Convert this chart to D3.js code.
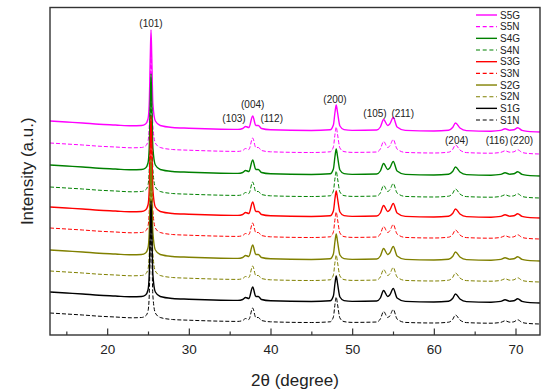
<!DOCTYPE html>
<html>
<head>
<meta charset="utf-8">
<script src="https://cdn.jsdelivr.net/npm/d3@7"></script>
<style>
body { margin: 0; background: #fff; }
text { font-family: Arial, "Liberation Sans", sans-serif; }
</style>
</head>
<body>
<div class="container"></div>
<script>
const WIDTH = 550;
const HEIGHT = 392;
const margin = {top: 7.5, right: 10, bottom: 57, left: 50};

// samples, drawn top trace first so the lower ones sit on top
var samples = ["S5G", "S5N", "S4G", "S4N", "S3G", "S3N", "S2G", "S2N", "S1G", "S1N"];
var colors = ["#ff00ff", "#ff00ff", "#008000", "#008000", "#ff0000", "#ff0000", "#808000", "#808000", "#000000", "#000000"];
var dashed = [false, true, false, true, false, true, false, true, false, true];
// vertical stacking offset of each pattern (a.u.)
var offsets = [203, 181, 159, 137, 117, 96, 74, 53, 32, 11];

// pattern (2θ, intensity a.u. above the high-angle baseline)
var twoTheta = [13, 15, 17, 19, 21, 23, 24.2, 24.7, 25.0, 25.15, 25.28, 25.37, 25.46, 25.6, 25.9, 26.5,
                28, 30, 33, 36, 36.6, 36.95, 37.35, 37.82, 38.2, 38.5, 38.9, 40, 45, 47.3, 47.7, 47.9,
                48.05, 48.2, 48.5, 49, 50, 53, 53.45, 53.85, 54.35, 54.6, 55.03, 55.5, 56.5, 60, 61.8, 62.3,
                62.65, 63.2, 64, 67, 68.2, 68.72, 69.3, 69.8, 70.27, 70.8, 71.5, 73];
var intensity = [11, 10, 9, 7.8, 7, 6.2, 6.5, 8, 13, 28, 75, 102, 75, 28, 11, 6.5,
                 4.5, 3.8, 3, 2.6, 3.5, 5.5, 4.5, 16, 6.5, 6.5, 3.5, 2.2, 1.5, 2.2, 7, 20,
                 27, 20, 6, 2.4, 1.6, 2, 5, 12.5, 6.5, 8, 14.5, 5, 1.6, 1, 1.8, 4.5,
                 9, 4, 1.4, 0.8, 1.6, 3.2, 1.8, 2.2, 4.2, 1.6, 0.6, 0];

var xTicks = [20, 30, 40, 50, 60, 70];
var xMinorTicks = [15, 25, 35, 45, 55, 65];

// reflection labels (hkl) and where they sit on the S5G pattern
var hklLabels = ["(101)", "(103)", "(004)", "(112)", "(200)", "(105)", "(211)", "(204)", "(116)", "(220)"];
var hklTheta = [25.37, 35.53, 37.82, 40.15, 47.9, 52.8, 56.19, 62.8, 67.73, 70.73];
var hklLevel = [308, 213, 227, 213, 232, 218.5, 218.5, 191, 191, 191];

var svg, plot, x, y;

var loadChart = function() {
    svg = d3.select(".container").append("svg")
        .attr("width", WIDTH)
        .attr("height", HEIGHT);

    var w = WIDTH - margin.left - margin.right;
    var h = HEIGHT - margin.top - margin.bottom;

    x = d3.scaleLinear().domain([13, 73]).range([0, w]);
    y = d3.scaleLinear().domain([0, h]).range([h, 0]);

    svg.append("clipPath").attr("id", "clip")
        .append("rect").attr("width", w).attr("height", h);

    plot = svg.append("g")
        .attr("transform", "translate(" + margin.left + "," + margin.top + ")");

    drawPatterns();
    drawLabels();
    drawAxes(w, h);
    drawLegend();
}

var drawPatterns = function() {
    var pts = twoTheta.map(function(t, i) { return [t, intensity[i]]; });
    var g = plot.append("g").attr("clip-path", "url(#clip)");

    samples.forEach(function(s, k) {
        var line = d3.line()
            .x(function(d) { return x(d[0]); })
            .y(function(d) { return y(d[1] + offsets[k]); })
            .curve(d3.curveMonotoneX);
        g.append("path")
            .datum(pts)
            .attr("d", line)
            .attr("fill", "none")
            .attr("stroke", colors[k])
            .attr("stroke-width", dashed[k] ? 1 : 1.4)
            .attr("stroke-dasharray", dashed[k] ? "4,2" : null)
            .attr("stroke-linejoin", "round");
    });
}

var drawLabels = function() {
    plot.selectAll(".hkl")
        .data(hklLabels)
        .enter().append("text")
        .attr("class", "hkl")
        .attr("x", function(d, i) { return x(hklTheta[i]); })
        .attr("y", function(d, i) { return y(hklLevel[i]); })
        .attr("text-anchor", "middle")
        .attr("font-size", 10)
        .attr("fill", "#222")
        .text(function(d) { return d; });
}

var drawAxes = function(w, h) {
    var xAxis = d3.axisBottom(x)
        .tickValues(xTicks)
        .tickSize(-6.5)
        .tickPadding(9)
        .tickFormat(d3.format("d"));
    var ax = plot.append("g")
        .attr("transform", "translate(0," + h + ")")
        .call(xAxis);
    ax.select(".domain").remove();
    ax.selectAll("line").attr("stroke", "#333").attr("stroke-width", 1.2);
    ax.selectAll("text").attr("font-size", 13.5).attr("fill", "#222")
        .style("font-family", "Arial, 'Liberation Sans', sans-serif");

    var minor = plot.append("g")
        .attr("transform", "translate(0," + h + ")")
        .call(d3.axisBottom(x).tickValues(xMinorTicks).tickSize(-3.5).tickFormat(""));
    minor.select(".domain").remove();
    minor.selectAll("line").attr("stroke", "#333").attr("stroke-width", 1.2);

    plot.append("rect")
        .attr("width", w)
        .attr("height", h)
        .attr("fill", "none")
        .attr("stroke", "#333")
        .attr("stroke-width", 1.4);

    svg.append("text")
        .attr("x", margin.left + w / 2)
        .attr("y", 386)
        .attr("text-anchor", "middle")
        .attr("font-size", 17)
        .attr("fill", "#222")
        .text("2θ (degree)");

    svg.append("text")
        .attr("transform", "translate(33," + (margin.top + h / 2) + ") rotate(-90)")
        .attr("text-anchor", "middle")
        .attr("font-size", 17)
        .attr("fill", "#222")
        .text("Intensity (a.u.)");
}

var drawLegend = function() {
    var leg = svg.append("g").attr("transform", "translate(476,15)");
    samples.forEach(function(s, k) {
        var row = leg.append("g").attr("transform", "translate(0," + (k * 11.67) + ")");
        row.append("line")
            .attr("x1", 0).attr("x2", 21)
            .attr("stroke", colors[k])
            .attr("stroke-width", dashed[k] ? 1.1 : 1.4)
            .attr("stroke-dasharray", dashed[k] ? "4,2.7" : null);
        row.append("text")
            .attr("x", 24)
            .attr("dy", "0.35em")
            .attr("font-size", 10)
            .attr("fill", "#222")
            .text(s);
    });
}

window.onload = loadChart;
</script>
</body>
</html>
